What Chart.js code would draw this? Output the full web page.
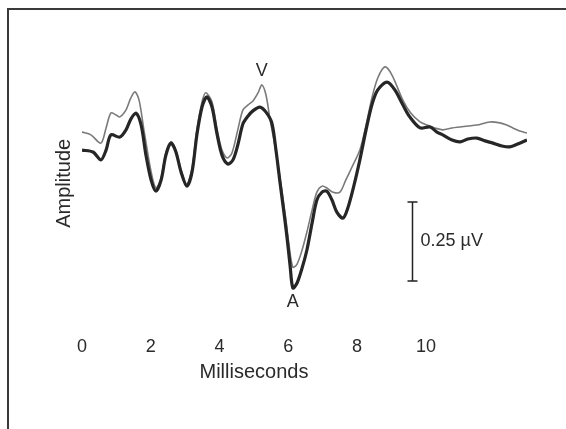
<!DOCTYPE html>
<html>
<head>
<meta charset="utf-8">
<script src="https://cdn.jsdelivr.net/npm/chart.js@4"></script>
<style>
html,body{margin:0;padding:0;background:#fff;}
canvas{display:block;}
</style>
</head>
<body>
<canvas id="c" width="566" height="429"></canvas>
<script>
// Time (ms) and amplitude (µV) of the thin (lighter) trace
const timeThin = [0,0.26,0.55,0.70,0.84,0.99,1.10,1.28,1.42,1.54,1.66,1.80,2.01,2.15,2.30,2.44,2.59,2.73,2.88,3.05,3.20,3.34,3.49,3.60,3.78,3.92,4.07,4.22,4.36,4.53,4.68,4.83,4.97,5.12,5.23,5.35,5.47,5.58,5.70,5.81,5.93,6.02,6.13,6.25,6.40,6.54,6.69,6.83,6.98,7.12,7.30,7.50,7.67,7.88,8.08,8.26,8.43,8.60,8.81,9.01,9.33,9.56,9.83,10.03,10.26,10.49,10.76,10.99,11.22,11.48,11.86,12.15,12.35,12.53,12.73,12.94];
const ampThin  = [0.215,0.206,0.180,0.228,0.275,0.269,0.263,0.285,0.323,0.342,0.316,0.222,0.089,0.038,0.070,0.152,0.184,0.158,0.095,0.051,0.101,0.222,0.310,0.339,0.310,0.228,0.158,0.133,0.149,0.222,0.285,0.301,0.313,0.339,0.364,0.332,0.253,0.190,0.111,0.032,-0.063,-0.142,-0.212,-0.203,-0.158,-0.101,-0.032,0.025,0.044,0.038,0.025,0.025,0.063,0.111,0.158,0.237,0.323,0.386,0.421,0.396,0.316,0.275,0.247,0.237,0.228,0.222,0.228,0.231,0.234,0.237,0.247,0.244,0.237,0.228,0.218,0.212];
// Time (ms) and amplitude (µV) of the thick (darker) trace
const timeThick = [0,0.32,0.55,0.70,0.84,1.10,1.28,1.42,1.57,1.72,1.86,2.01,2.15,2.30,2.44,2.59,2.73,2.88,3.05,3.20,3.34,3.49,3.63,3.78,3.92,4.07,4.24,4.39,4.53,4.68,4.83,4.97,5.17,5.35,5.52,5.64,5.76,5.87,5.96,6.05,6.13,6.25,6.40,6.54,6.69,6.83,6.98,7.12,7.27,7.41,7.59,7.73,7.91,8.08,8.26,8.43,8.60,8.87,9.10,9.33,9.53,9.83,10.12,10.32,10.49,10.76,10.99,11.22,11.48,11.72,11.95,12.21,12.44,12.67,12.94];
const ampThick  = [0.158,0.152,0.127,0.158,0.206,0.199,0.222,0.256,0.275,0.237,0.142,0.063,0.028,0.063,0.142,0.180,0.152,0.089,0.044,0.089,0.206,0.294,0.326,0.294,0.212,0.142,0.114,0.127,0.174,0.241,0.266,0.282,0.294,0.278,0.244,0.158,0.054,-0.038,-0.117,-0.206,-0.278,-0.263,-0.215,-0.158,-0.073,0,0.025,0.028,0,-0.038,-0.057,-0.025,0.047,0.127,0.222,0.301,0.348,0.373,0.348,0.301,0.263,0.228,0.231,0.215,0.206,0.190,0.184,0.193,0.196,0.187,0.180,0.171,0.168,0.177,0.190];
// X tick labels shown
const xTickLabels = [0,2,4,6,8,10];
const xTitle = 'Milliseconds';
const yTitle = 'Amplitude';
// Scale bar (µV) and peak labels
const scaleBarValue = 0.25;
const scaleBarLabel = '0.25 \u00b5V';
const scaleBarTime = 9.59;
const scaleBarBase = -0.256;
const peakLabels = ['V','A'];
const peakTimes = [5.23, 6.13];
const peakValues = [0.364, -0.278];

const FONT = '"Liberation Sans", Arial, Helvetica, sans-serif';
const TEXT = '#2a2a2a';

const decor = {
  id: 'decor',
  beforeDraw(chart) {
    const ctx = chart.ctx;
    ctx.save();
    ctx.strokeStyle = '#3a3a3a';
    ctx.lineWidth = 2;
    ctx.beginPath();
    ctx.moveTo(8, 429);
    ctx.lineTo(8, 9);
    ctx.lineTo(566, 9);
    ctx.stroke();
    ctx.restore();
  },
  afterDraw(chart) {
    const ctx = chart.ctx;
    const xs = chart.scales.x, ys = chart.scales.y;
    ctx.save();
    // scale bar
    const bx = Math.round(xs.getPixelForValue(scaleBarTime)) + 0.5;
    const y0 = ys.getPixelForValue(scaleBarBase);
    const y1 = ys.getPixelForValue(scaleBarBase + scaleBarValue);
    ctx.strokeStyle = '#222';
    ctx.lineWidth = 1.5;
    ctx.beginPath();
    ctx.moveTo(bx, y0); ctx.lineTo(bx, y1);
    ctx.moveTo(bx - 5, y0); ctx.lineTo(bx + 5, y0);
    ctx.moveTo(bx - 5, y1); ctx.lineTo(bx + 5, y1);
    ctx.stroke();
    ctx.fillStyle = TEXT;
    ctx.font = '18px ' + FONT;
    ctx.textAlign = 'left';
    ctx.textBaseline = 'middle';
    ctx.fillText(scaleBarLabel, bx + 8, (y0 + y1) / 2);
    // peak labels
    ctx.textAlign = 'center';
    peakLabels.forEach((lab, i) => {
      const px = xs.getPixelForValue(peakTimes[i]);
      const py = ys.getPixelForValue(peakValues[i]);
      if (peakValues[i] > 0) {
        ctx.textBaseline = 'bottom';
        ctx.fillText(lab, px, py - 5);
      } else {
        ctx.textBaseline = 'top';
        ctx.fillText(lab, px, py + 5);
      }
    });
    // axis titles
    ctx.font = '20px ' + FONT;
    ctx.textAlign = 'center';
    ctx.textBaseline = 'middle';
    const midX = xs.getPixelForValue((xTickLabels[0] + xTickLabels[xTickLabels.length - 1]) / 2);
    ctx.fillText(xTitle, midX, 372);
    ctx.translate(64, ys.getPixelForValue(0.053));
    ctx.rotate(-Math.PI / 2);
    ctx.fillText(yTitle, 0, 0);
    ctx.restore();
  }
};

new Chart(document.getElementById('c'), {
  type: 'line',
  data: {
    datasets: [
      {
        label: 'thick',
        data: timeThick.map((t, i) => ({x: t, y: ampThick[i]})),
        borderColor: '#262626',
        borderWidth: 3.2,
        pointRadius: 0,
        tension: 0.3,
        order: 0
      },
      {
        label: 'thin',
        data: timeThin.map((t, i) => ({x: t, y: ampThin[i]})),
        borderColor: '#7a7a7a',
        borderWidth: 1.6,
        pointRadius: 0,
        tension: 0.3,
        order: 1
      }
    ]
  },
  options: {
    responsive: false,
    animation: false,
    events: [],
    layout: {padding: {left: 0, right: 39, top: 40, bottom: 0}},
    plugins: {legend: {display: false}, tooltip: {enabled: false}},
    scales: {
      x: {
        type: 'linear',
        min: 0,
        max: Math.max(...timeThin, ...timeThick),
        afterFit(s) { s.height = 129; },
        grid: {display: false, drawTicks: false},
        border: {display: false},
        afterBuildTicks(s) { s.ticks = xTickLabels.map(v => ({value: v})); },
        ticks: {
          padding: 36,
          color: TEXT,
          font: {family: FONT, size: 18},
          maxRotation: 0,
          autoSkip: false,
          callback: v => String(v)
        },
        title: {display: false}
      },
      y: {
        type: 'linear',
        min: -0.316,
        max: 0.506,
        afterFit(s) { s.width = 82; },
        grid: {display: false, drawTicks: false},
        border: {display: false},
        ticks: {display: false},
        title: {display: false}
      }
    }
  },
  plugins: [decor]
});
</script>
</body>
</html>
